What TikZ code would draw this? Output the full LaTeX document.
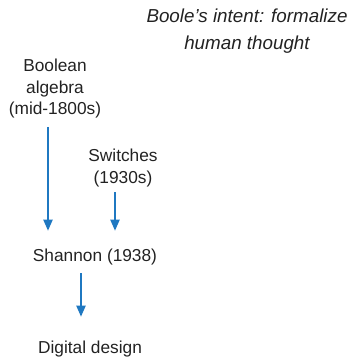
\documentclass[tikz,border=0pt]{standalone}
\usepackage{fontspec}
\setmainfont{Liberation Sans}
\usetikzlibrary{arrows.meta}
\definecolor{ink}{HTML}{222222}
\definecolor{flow}{HTML}{1F78C1}
\begin{document}
\begin{tikzpicture}[x=1pt,y=1pt,
  lbl/.style={text=ink, font=\fontsize{17.3}{21.5}\selectfont, align=center, inner sep=0pt},
  arr/.style={draw=flow, line width=2pt, -{Triangle[width=9pt,length=11pt]}}]
\useasboundingbox (0,0) rectangle (350,-360);
\node[lbl, font=\fontsize{18.8}{27}\selectfont\itshape] (intent) at (247,-31) {Boole's intent: formalize\\human thought};
\node[lbl] (bool) at (55,-89) {Boolean\\algebra\\(mid-1800s)};
\node[lbl] (sw) at (123,-168) {Switches\\(1930s)};
\node[lbl] (shannon) at (95,-257) {Shannon (1938)};
\node[lbl] (digital) at (90,-349) {Digital design};
\draw[arr] ([xshift=-7pt,yshift=-8pt]bool.south) -- ([xshift=-7pt,yshift=18pt]bool.south |- shannon.north);
\draw[arr] ([xshift=-8pt,yshift=-5pt]sw.south) -- ([xshift=-8pt,yshift=18pt]sw.south |- shannon.north);
\draw[arr] ([xshift=-14pt,yshift=-8pt]shannon.south) -- ([xshift=-14pt,yshift=24pt]shannon.south |- digital.north);
\end{tikzpicture}
\end{document}
